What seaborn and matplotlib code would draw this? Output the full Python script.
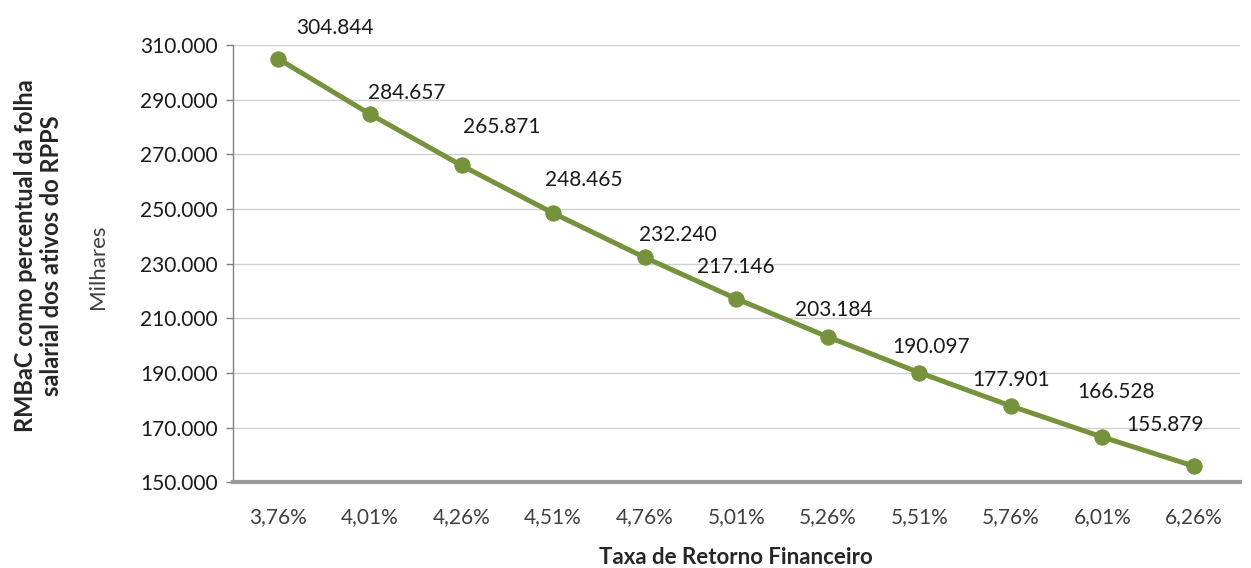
import matplotlib
matplotlib.use("Agg")
import matplotlib.pyplot as plt
import seaborn as sns
import pandas as pd
import numpy as np
from matplotlib.ticker import FuncFormatter, FixedLocator

# Dados do gráfico (valores em milhares)
taxas = ["3,76%", "4,01%", "4,26%", "4,51%", "4,76%", "5,01%",
         "5,26%", "5,51%", "5,76%", "6,01%", "6,26%"]
rmbac = [304844, 284657, 265871, 248465, 232240, 217146,
         203184, 190097, 177901, 166528, 155879]
rotulos = ["304.844", "284.657", "265.871", "248.465", "232.240", "217.146",
           "203.184", "190.097", "177.901", "166.528", "155.879"]

df = pd.DataFrame({"pos": np.arange(len(taxas)), "valor": rmbac})

sns.set_theme(style="white")
plt.rcParams["font.family"] = ["Lato", "DejaVu Sans"]

verde = "#76923C"
cinza_txt = "#404040"

fig = plt.figure(figsize=(12.51, 5.68), dpi=100)
ax = fig.add_axes([0.186, 0.151, 0.805, 0.770])

sns.lineplot(data=df, x="pos", y="valor", ax=ax, color=verde, linewidth=3.6,
             marker="o", markersize=11, markeredgecolor=verde, sort=False)

# rótulos de dados (deslocamento em pixels)
desloc = [(56, 31), (37, 21), (40, 38), (31, 33), (33, 22), (0, 32),
          (6, 27), (12, 26), (0, 26), (14, 45), (-29, 41)]
for i, (v, t) in enumerate(zip(rmbac, rotulos)):
    ax.annotate(t, (i, v), xytext=desloc[i], textcoords="offset pixels",
                ha="center", va="center", fontsize=15, color="#1a1a1a")

ax.set_xlim(-0.5, len(taxas) - 0.5)
ax.set_ylim(150000, 310000)
ax.set_yticks(np.arange(150000, 310001, 20000))
ax.yaxis.set_major_formatter(FuncFormatter(lambda v, p: f"{int(v):,}".replace(",", ".")))

ax.set_xticks(np.arange(len(taxas)))
ax.set_xticklabels(taxas)
ax.xaxis.set_minor_locator(FixedLocator(np.arange(-0.5, len(taxas), 1.0)))
ax.tick_params(axis="x", which="major", length=0, pad=18, labelsize=15, labelcolor=cinza_txt)
ax.tick_params(axis="x", which="minor", length=8, width=1, color="#808080", direction="out")
ax.tick_params(axis="y", which="major", length=5, width=1, color="#808080", direction="out",
               labelsize=15, labelcolor="#1a1a1a", pad=6)
ax.tick_params(left=True, bottom=True)

ax.grid(axis="y", color="#d0d0d0", linewidth=1)
ax.set_axisbelow(True)
for s in ["top", "right"]:
    ax.spines[s].set_visible(False)
ax.spines["left"].set_color("#808080")
ax.spines["left"].set_linewidth(1)
ax.spines["bottom"].set_color("#9a9a9a")
ax.spines["bottom"].set_linewidth(3)

ax.set_xlabel("Taxa de Retorno Financeiro", fontsize=16, fontweight="bold",
              color="#262626", labelpad=14)
ax.set_ylabel("")

fig.text(0.031, 0.55, "RMBaC como percentual da folha\nsalarial dos ativos do RPPS",
         rotation=90, ha="center", va="center", fontsize=17, fontweight="bold",
         color="#262626", linespacing=1.15)
fig.text(0.078, 0.53, "Milhares", rotation=90, ha="center", va="center",
         fontsize=16, color=cinza_txt)

fig.savefig("out.png", dpi=100)
